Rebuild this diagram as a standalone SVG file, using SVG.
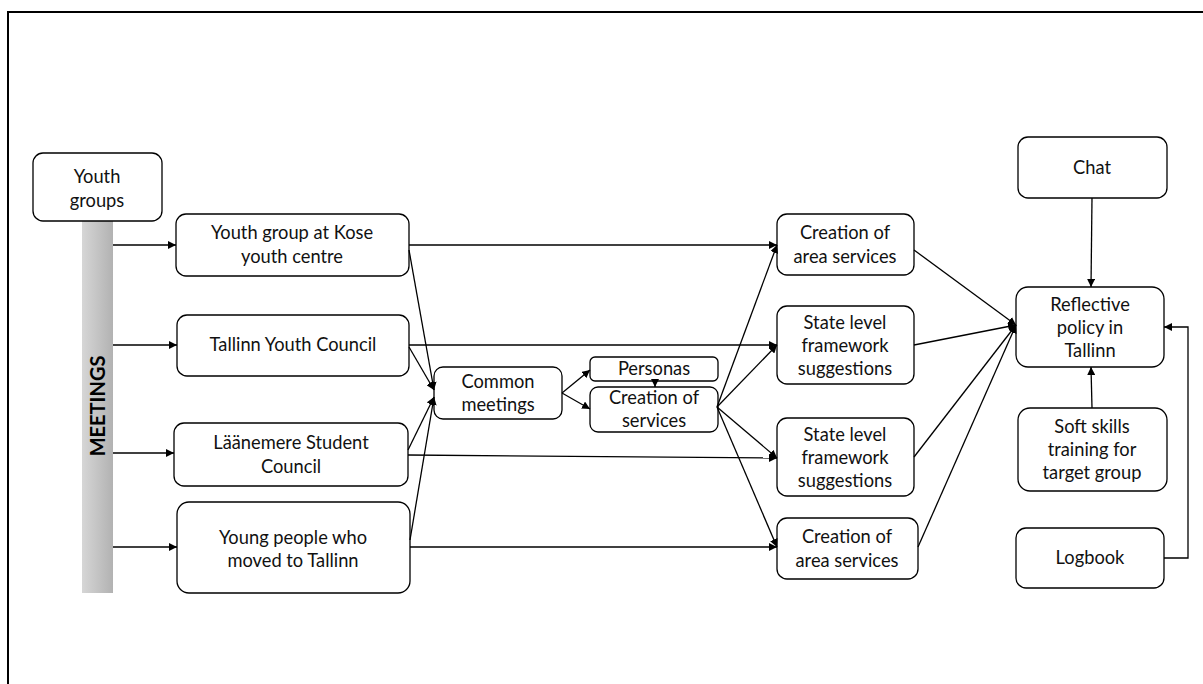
<svg xmlns="http://www.w3.org/2000/svg" width="1203" height="684" viewBox="0 0 1203 684">
<defs>
<linearGradient id="barGrad" x1="0" y1="0" x2="1" y2="0">
<stop offset="0" stop-color="#d6d6d6"/>
<stop offset="1" stop-color="#b2b2b2"/>
</linearGradient>
<marker id="arr" viewBox="0 0 10 10" refX="10" refY="5" markerWidth="8" markerHeight="8" markerUnits="userSpaceOnUse" orient="auto">
<path d="M0,0 L10,5 L0,10 z" fill="#000"/>
</marker>
<style>
.box{fill:#fff;stroke:#000;stroke-width:1.3}
.t{font-family:Lato,"Liberation Sans",sans-serif;font-size:18.3px;fill:#111;text-anchor:middle}
.c{fill:none;stroke:#000;stroke-width:1.3;marker-end:url(#arr)}
.frame{fill:none;stroke:#000;stroke-width:2}
</style>
</defs>
<rect width="1203" height="684" fill="#fff"/>
<path class="frame" d="M8,684 L8,12 L1203,12"/>

<g id="meetings-bar">
<rect x="82" y="221" width="31" height="372" fill="url(#barGrad)"/>
<text transform="translate(105,406) rotate(-90)" style="font-family:Lato,'Liberation Sans',sans-serif;font-size:20px;font-weight:bold;text-anchor:middle;fill:#000">MEETINGS</text>
</g>

<g id="youth-groups">
<rect class="box" x="33" y="153" width="129" height="68" rx="10"/>
<text class="t" x="97" y="183">Youth</text>
<text class="t" x="97" y="207">groups</text>
</g>

<g id="kose">
<rect class="box" x="176" y="214" width="233" height="62" rx="10"/>
<text class="t" x="292" y="239">Youth group at Kose</text>
<text class="t" x="292" y="263">youth centre</text>
</g>

<g id="tyc">
<rect class="box" x="177" y="315" width="232" height="61" rx="10"/>
<text class="t" x="293" y="351">Tallinn Youth Council</text>
</g>

<g id="laanemere">
<rect class="box" x="174" y="423" width="234" height="63" rx="10"/>
<text class="t" x="291" y="449">Läänemere Student</text>
<text class="t" x="291" y="473">Council</text>
</g>

<g id="young-people">
<rect class="box" x="177" y="502" width="233" height="91" rx="12"/>
<text class="t" x="293" y="544">Young people who</text>
<text class="t" x="293" y="567">moved to Tallinn</text>
</g>

<g id="common-meetings">
<rect class="box" x="434" y="367" width="128" height="52" rx="9"/>
<text class="t" x="498" y="388">Common</text>
<text class="t" x="498" y="411">meetings</text>
</g>

<g id="personas">
<rect class="box" x="590" y="357" width="128" height="24" rx="5"/>
<text class="t" x="654" y="375">Personas</text>
</g>

<g id="creation-services">
<rect class="box" x="590" y="387" width="128" height="45" rx="8"/>
<text class="t" x="654" y="404">Creation of</text>
<text class="t" x="654" y="427">services</text>
</g>

<g id="area-services-1">
<rect class="box" x="777" y="214" width="137" height="61" rx="10"/>
<text class="t" x="845" y="239">Creation of</text>
<text class="t" x="845" y="263">area services</text>
</g>

<g id="state-level-1">
<rect class="box" x="777" y="306" width="137" height="78" rx="10"/>
<text class="t" x="845" y="329">State level</text>
<text class="t" x="845" y="352">framework</text>
<text class="t" x="845" y="375">suggestions</text>
</g>

<g id="state-level-2">
<rect class="box" x="777" y="418" width="137" height="78" rx="10"/>
<text class="t" x="845" y="441">State level</text>
<text class="t" x="845" y="464">framework</text>
<text class="t" x="845" y="487">suggestions</text>
</g>

<g id="area-services-2">
<rect class="box" x="777" y="518" width="141" height="61" rx="10"/>
<text class="t" x="847" y="543">Creation of</text>
<text class="t" x="847" y="567">area services</text>
</g>

<g id="chat">
<rect class="box" x="1018" y="137" width="149" height="61" rx="10"/>
<text class="t" x="1092" y="174">Chat</text>
</g>

<g id="reflective">
<rect class="box" x="1016" y="287" width="148" height="80" rx="12"/>
<text class="t" x="1090" y="311">Reflective</text>
<text class="t" x="1090" y="334">policy in</text>
<text class="t" x="1090" y="357">Tallinn</text>
</g>

<g id="soft-skills">
<rect class="box" x="1018" y="408" width="149" height="83" rx="12"/>
<text class="t" x="1092" y="433">Soft skills</text>
<text class="t" x="1092" y="456">training for</text>
<text class="t" x="1092" y="479">target group</text>
</g>

<g id="logbook">
<rect class="box" x="1016" y="528" width="148" height="60" rx="10"/>
<text class="t" x="1090" y="564">Logbook</text>
</g>

<g id="connectors">
<line class="c" x1="113" y1="245" x2="176" y2="245"/>
<line class="c" x1="113" y1="345" x2="177" y2="345"/>
<line class="c" x1="113" y1="453" x2="174" y2="453"/>
<line class="c" x1="113" y1="547" x2="177" y2="547"/>

<line class="c" x1="409" y1="250" x2="434" y2="390"/>
<line class="c" x1="409" y1="347" x2="434" y2="390"/>
<line class="c" x1="408" y1="450" x2="434" y2="397"/>
<line class="c" x1="410" y1="540" x2="434" y2="397"/>

<line class="c" x1="409" y1="245" x2="777" y2="245"/>
<line class="c" x1="409" y1="345" x2="777" y2="345"/>
<line class="c" x1="408" y1="455" x2="777" y2="458"/>
<line class="c" x1="410" y1="547" x2="777" y2="547"/>

<line class="c" x1="562" y1="393" x2="590" y2="370"/>
<line class="c" x1="562" y1="393" x2="590" y2="409"/>
<line class="c" x1="655" y1="381" x2="655" y2="387"/>

<line class="c" x1="717" y1="407" x2="777" y2="245"/>
<line class="c" x1="717" y1="407" x2="777" y2="345"/>
<line class="c" x1="717" y1="407" x2="777" y2="458"/>
<line class="c" x1="717" y1="407" x2="777" y2="547"/>

<line class="c" x1="914" y1="250" x2="1016" y2="325"/>
<line class="c" x1="914" y1="345" x2="1016" y2="325"/>
<line class="c" x1="914" y1="457" x2="1016" y2="325"/>
<line class="c" x1="918" y1="547" x2="1016" y2="325"/>

<line class="c" x1="1092" y1="198" x2="1091" y2="287"/>
<line class="c" x1="1092" y1="408" x2="1091" y2="367"/>
<polyline class="c" points="1164,558 1188,558 1188,327 1164,327"/>
</g>
</svg>
